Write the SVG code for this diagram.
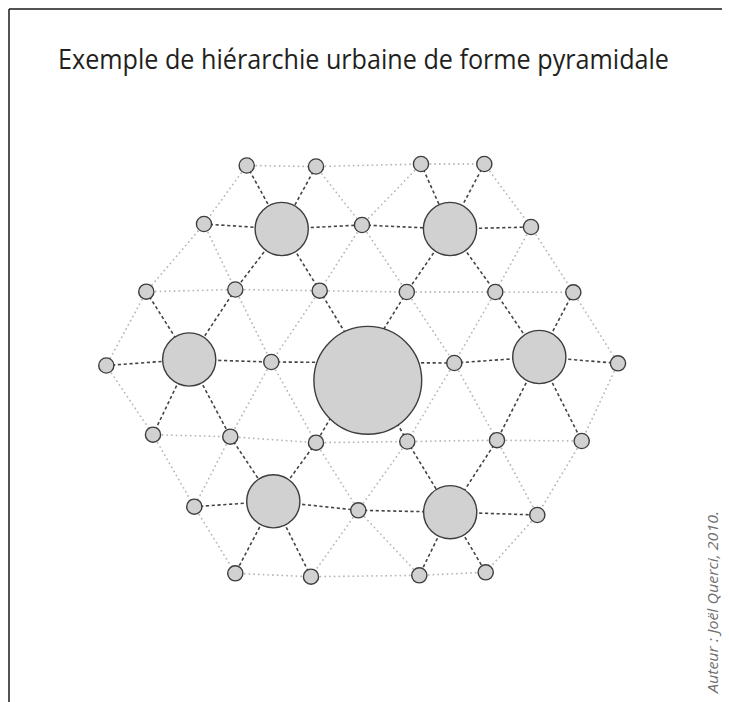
<svg xmlns="http://www.w3.org/2000/svg" width="729" height="702" viewBox="0 0 729 702">
<style>
.dot{stroke:#b8b8b8;stroke-width:1.8;stroke-dasharray:0.1 4.6;stroke-linecap:round;fill:none}
.dash{stroke:#444444;stroke-width:1.6;stroke-dasharray:3.2 2.6;fill:none}
.n{fill:#d1d1d1;stroke:#3d3d3d;stroke-width:1.4}
.title{font-family:"Open Sans","Liberation Sans",sans-serif;font-size:27px;fill:#231f20}
.credit{font-family:"Open Sans","Liberation Sans",sans-serif;font-size:14px;font-style:italic;fill:#707070}
</style>
<rect width="729" height="702" fill="#ffffff"/>
<g id="frame" stroke="#1a1a1a" stroke-width="1.5" fill="none">
<line x1="9" y1="9" x2="722" y2="9"/>
<line x1="9" y1="9" x2="9" y2="702"/>
</g>
<text class="title" x="58" y="69" textLength="611" lengthAdjust="spacingAndGlyphs">Exemple de hiérarchie urbaine de forme pyramidale</text>
<g id="connectors">
<g id="dotted">
<line class="dot" x1="246.7" y1="165.5" x2="316" y2="166.5"/>
<line class="dot" x1="316" y1="166.5" x2="421" y2="164"/>
<line class="dot" x1="421" y1="164" x2="484.3" y2="164"/>
<line class="dot" x1="146.3" y1="291.7" x2="235.3" y2="289.5"/>
<line class="dot" x1="235.3" y1="289.5" x2="319.7" y2="290.7"/>
<line class="dot" x1="319.7" y1="290.7" x2="406.8" y2="292"/>
<line class="dot" x1="406.8" y1="292" x2="495.3" y2="292"/>
<line class="dot" x1="495.3" y1="292" x2="573.3" y2="292.3"/>
<line class="dot" x1="153" y1="434.7" x2="230.3" y2="436.7"/>
<line class="dot" x1="230.3" y1="436.7" x2="316" y2="442.7"/>
<line class="dot" x1="316" y1="442.7" x2="407.3" y2="441.5"/>
<line class="dot" x1="407.3" y1="441.5" x2="497" y2="440.2"/>
<line class="dot" x1="497" y1="440.2" x2="581.7" y2="441"/>
<line class="dot" x1="235.3" y1="573.3" x2="311" y2="576.7"/>
<line class="dot" x1="311" y1="576.7" x2="419.3" y2="575.3"/>
<line class="dot" x1="419.3" y1="575.3" x2="485.7" y2="572.3"/>
<line class="dot" x1="246.7" y1="165.5" x2="204" y2="224"/>
<line class="dot" x1="316" y1="166.5" x2="362" y2="225"/>
<line class="dot" x1="421" y1="164" x2="362" y2="225"/>
<line class="dot" x1="484.3" y1="164" x2="531" y2="227"/>
<line class="dot" x1="204" y1="224" x2="146.3" y2="291.7"/>
<line class="dot" x1="204" y1="224" x2="235.3" y2="289.5"/>
<line class="dot" x1="362" y1="225" x2="319.7" y2="290.7"/>
<line class="dot" x1="362" y1="225" x2="406.8" y2="292"/>
<line class="dot" x1="531" y1="227" x2="495.3" y2="292"/>
<line class="dot" x1="531" y1="227" x2="573.3" y2="292.3"/>
<line class="dot" x1="146.3" y1="291.7" x2="106.3" y2="365.5"/>
<line class="dot" x1="235.3" y1="289.5" x2="271.3" y2="362"/>
<line class="dot" x1="319.7" y1="290.7" x2="271.3" y2="362"/>
<line class="dot" x1="406.8" y1="292" x2="454.3" y2="363"/>
<line class="dot" x1="495.3" y1="292" x2="454.3" y2="363"/>
<line class="dot" x1="573.3" y1="292.3" x2="618" y2="363.3"/>
<line class="dot" x1="106.3" y1="365.5" x2="153" y2="434.7"/>
<line class="dot" x1="271.3" y1="362" x2="230.3" y2="436.7"/>
<line class="dot" x1="271.3" y1="362" x2="316" y2="442.7"/>
<line class="dot" x1="454.3" y1="363" x2="407.3" y2="441.5"/>
<line class="dot" x1="454.3" y1="363" x2="497" y2="440.2"/>
<line class="dot" x1="618" y1="363.3" x2="581.7" y2="441"/>
<line class="dot" x1="153" y1="434.7" x2="194.3" y2="506.7"/>
<line class="dot" x1="230.3" y1="436.7" x2="194.3" y2="506.7"/>
<line class="dot" x1="316" y1="442.7" x2="358.3" y2="510.3"/>
<line class="dot" x1="407.3" y1="441.5" x2="358.3" y2="510.3"/>
<line class="dot" x1="497" y1="440.2" x2="537.3" y2="515"/>
<line class="dot" x1="581.7" y1="441" x2="537.3" y2="515"/>
<line class="dot" x1="194.3" y1="506.7" x2="235.3" y2="573.3"/>
<line class="dot" x1="358.3" y1="510.3" x2="311" y2="576.7"/>
<line class="dot" x1="358.3" y1="510.3" x2="419.3" y2="575.3"/>
<line class="dot" x1="537.3" y1="515" x2="485.7" y2="572.3"/>
</g>
<g id="dashed">
<line class="dash" x1="204" y1="224" x2="281.7" y2="229"/>
<line class="dash" x1="281.7" y1="229" x2="362" y2="225"/>
<line class="dash" x1="362" y1="225" x2="450" y2="229"/>
<line class="dash" x1="450" y1="229" x2="531" y2="227"/>
<line class="dash" x1="246.7" y1="165.5" x2="281.7" y2="229"/>
<line class="dash" x1="316" y1="166.5" x2="281.7" y2="229"/>
<line class="dash" x1="281.7" y1="229" x2="235.3" y2="289.5"/>
<line class="dash" x1="281.7" y1="229" x2="319.7" y2="290.7"/>
<line class="dash" x1="421" y1="164" x2="450" y2="229"/>
<line class="dash" x1="484.3" y1="164" x2="450" y2="229"/>
<line class="dash" x1="450" y1="229" x2="406.8" y2="292"/>
<line class="dash" x1="450" y1="229" x2="495.3" y2="292"/>
<line class="dash" x1="106.3" y1="365.5" x2="189.2" y2="359.5"/>
<line class="dash" x1="189.2" y1="359.5" x2="271.3" y2="362"/>
<line class="dash" x1="271.3" y1="362" x2="363" y2="362.5"/>
<line class="dash" x1="363" y1="362.5" x2="454.3" y2="363"/>
<line class="dash" x1="454.3" y1="363" x2="539.3" y2="357"/>
<line class="dash" x1="539.3" y1="357" x2="618" y2="363.3"/>
<line class="dash" x1="146.3" y1="291.7" x2="189.2" y2="359.5"/>
<line class="dash" x1="235.3" y1="289.5" x2="189.2" y2="359.5"/>
<line class="dash" x1="189.2" y1="359.5" x2="153" y2="434.7"/>
<line class="dash" x1="189.2" y1="359.5" x2="230.3" y2="436.7"/>
<line class="dash" x1="319.7" y1="290.7" x2="363" y2="362.5"/>
<line class="dash" x1="406.8" y1="292" x2="363" y2="362.5"/>
<line class="dash" x1="363" y1="362.5" x2="316" y2="442.7"/>
<line class="dash" x1="363" y1="362.5" x2="407.3" y2="441.5"/>
<line class="dash" x1="495.3" y1="292" x2="539.3" y2="357"/>
<line class="dash" x1="573.3" y1="292.3" x2="539.3" y2="357"/>
<line class="dash" x1="539.3" y1="357" x2="497" y2="440.2"/>
<line class="dash" x1="539.3" y1="357" x2="581.7" y2="441"/>
<line class="dash" x1="194.3" y1="506.7" x2="273.3" y2="501.3"/>
<line class="dash" x1="273.3" y1="501.3" x2="358.3" y2="510.3"/>
<line class="dash" x1="358.3" y1="510.3" x2="450.2" y2="512.2"/>
<line class="dash" x1="450.2" y1="512.2" x2="537.3" y2="515"/>
<line class="dash" x1="230.3" y1="436.7" x2="273.3" y2="501.3"/>
<line class="dash" x1="316" y1="442.7" x2="273.3" y2="501.3"/>
<line class="dash" x1="273.3" y1="501.3" x2="235.3" y2="573.3"/>
<line class="dash" x1="273.3" y1="501.3" x2="311" y2="576.7"/>
<line class="dash" x1="407.3" y1="441.5" x2="450.2" y2="512.2"/>
<line class="dash" x1="497" y1="440.2" x2="450.2" y2="512.2"/>
<line class="dash" x1="450.2" y1="512.2" x2="419.3" y2="575.3"/>
<line class="dash" x1="450.2" y1="512.2" x2="485.7" y2="572.3"/>
</g>
</g>
<g id="nodes">
<g id="A0"><circle class="n" cx="246.7" cy="165.5" r="7.6"/></g>
<g id="A1"><circle class="n" cx="316" cy="166.5" r="7.6"/></g>
<g id="A2"><circle class="n" cx="421" cy="164" r="7.6"/></g>
<g id="A3"><circle class="n" cx="484.3" cy="164" r="7.6"/></g>
<g id="B0"><circle class="n" cx="204" cy="224" r="7.6"/></g>
<g id="B1"><circle class="n" cx="281.7" cy="229" r="26.6"/></g>
<g id="B2"><circle class="n" cx="362" cy="225" r="7.6"/></g>
<g id="B3"><circle class="n" cx="450" cy="229" r="26.6"/></g>
<g id="B4"><circle class="n" cx="531" cy="227" r="7.6"/></g>
<g id="C0"><circle class="n" cx="146.3" cy="291.7" r="7.6"/></g>
<g id="C1"><circle class="n" cx="235.3" cy="289.5" r="7.6"/></g>
<g id="C2"><circle class="n" cx="319.7" cy="290.7" r="7.6"/></g>
<g id="C3"><circle class="n" cx="406.8" cy="292" r="7.6"/></g>
<g id="C4"><circle class="n" cx="495.3" cy="292" r="7.6"/></g>
<g id="C5"><circle class="n" cx="573.3" cy="292.3" r="7.6"/></g>
<g id="D0"><circle class="n" cx="106.3" cy="365.5" r="7.6"/></g>
<g id="D1"><circle class="n" cx="189.2" cy="359.5" r="26.6"/></g>
<g id="D2"><circle class="n" cx="271.3" cy="362" r="7.6"/></g>
<g id="D3"><circle class="n" cx="367.8" cy="380.3" r="53.9"/></g>
<g id="D4"><circle class="n" cx="454.3" cy="363" r="7.6"/></g>
<g id="D5"><circle class="n" cx="539.3" cy="357" r="26.6"/></g>
<g id="D6"><circle class="n" cx="618" cy="363.3" r="7.6"/></g>
<g id="E0"><circle class="n" cx="153" cy="434.7" r="7.6"/></g>
<g id="E1"><circle class="n" cx="230.3" cy="436.7" r="7.6"/></g>
<g id="E2"><circle class="n" cx="316" cy="442.7" r="7.6"/></g>
<g id="E3"><circle class="n" cx="407.3" cy="441.5" r="7.6"/></g>
<g id="E4"><circle class="n" cx="497" cy="440.2" r="7.6"/></g>
<g id="E5"><circle class="n" cx="581.7" cy="441" r="7.6"/></g>
<g id="F0"><circle class="n" cx="194.3" cy="506.7" r="7.6"/></g>
<g id="F1"><circle class="n" cx="273.3" cy="501.3" r="26.6"/></g>
<g id="F2"><circle class="n" cx="358.3" cy="510.3" r="7.6"/></g>
<g id="F3"><circle class="n" cx="450.2" cy="512.2" r="26.6"/></g>
<g id="F4"><circle class="n" cx="537.3" cy="515" r="7.6"/></g>
<g id="G0"><circle class="n" cx="235.3" cy="573.3" r="7.6"/></g>
<g id="G1"><circle class="n" cx="311" cy="576.7" r="7.6"/></g>
<g id="G2"><circle class="n" cx="419.3" cy="575.3" r="7.6"/></g>
<g id="G3"><circle class="n" cx="485.7" cy="572.3" r="7.6"/></g>
</g>
<text class="credit" transform="translate(718,693) rotate(-90)" textLength="182" lengthAdjust="spacingAndGlyphs">Auteur : Joël Querci, 2010.</text>
</svg>
